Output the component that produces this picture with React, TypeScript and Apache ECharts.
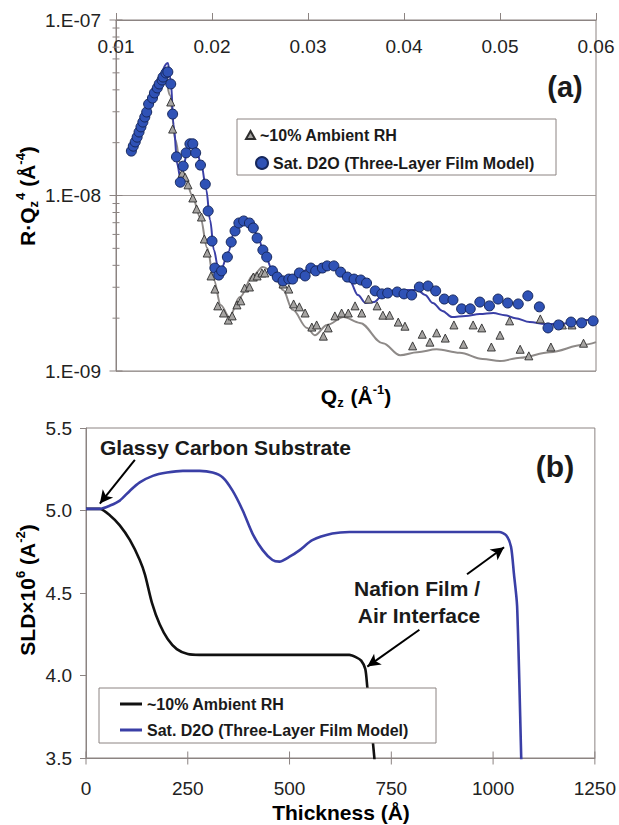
import React, { useEffect, useRef } from "react";
import * as echarts from "echarts";

const FONT = "'Liberation Sans', Arial, Helvetica, sans-serif";
const AXIS = "#8c8482";
const TXT = "#1a1a1a";

// ---------- Panel (a): reflectivity R·Qz^4 vs Qz ----------
// Sat. D2O measured points [Qz, R·Qz^4]
const satPoints: number[][] = [
  [0.0116, 1.79e-8], [0.0118, 1.91e-8], [0.012, 2.02e-8], [0.0122, 2.15e-8], [0.0124, 2.3e-8],
  [0.0126, 2.46e-8], [0.0128, 2.62e-8], [0.013, 2.8e-8], [0.0132, 2.99e-8], [0.0134, 3.32e-8],
  [0.0138, 3.59e-8], [0.014, 3.84e-8], [0.0143, 4.1e-8], [0.0145, 4.32e-8], [0.0148, 4.55e-8],
  [0.0149, 4.73e-8], [0.0152, 4.99e-8], [0.0154, 5.06e-8], [0.0157, 4.32e-8], [0.0159, 2.91e-8],
  [0.0163, 1.66e-8], [0.0167, 1.19e-8], [0.017, 1.47e-8], [0.0173, 1.75e-8], [0.0177, 1.97e-8],
  [0.018, 1.97e-8], [0.0183, 1.75e-8], [0.0188, 1.49e-8], [0.0193, 1.16e-8], [0.0196, 8.16e-9],
  [0.02, 5.5e-9], [0.0203, 3.86e-9], [0.0207, 3.52e-9], [0.021, 3.72e-9], [0.0216, 4.46e-9],
  [0.022, 5.43e-9], [0.0224, 6.28e-9], [0.0228, 6.97e-9], [0.0233, 7.16e-9], [0.0239, 6.97e-9],
  [0.0243, 6.53e-9], [0.0247, 5.72e-9], [0.0253, 4.89e-9], [0.0257, 4.46e-9], [0.0263, 3.72e-9],
  [0.0268, 3.43e-9], [0.0274, 3.26e-9], [0.028, 3.34e-9], [0.0284, 3.34e-9], [0.0291, 3.62e-9],
  [0.0297, 3.48e-9], [0.0303, 3.86e-9], [0.0308, 3.72e-9], [0.0315, 3.86e-9], [0.032, 3.97e-9],
  [0.0327, 3.97e-9], [0.0334, 3.66e-9], [0.0341, 3.43e-9], [0.0348, 3.34e-9], [0.0355, 3.3e-9],
  [0.0361, 3.17e-9], [0.037, 2.86e-9], [0.0377, 2.75e-9], [0.0383, 2.78e-9], [0.0393, 2.82e-9],
  [0.04, 2.75e-9], [0.0408, 2.71e-9], [0.0416, 3.01e-9], [0.0425, 3.05e-9], [0.0433, 2.86e-9],
  [0.0442, 2.57e-9], [0.0451, 2.54e-9], [0.046, 2.26e-9], [0.0469, 2.26e-9], [0.0479, 2.47e-9],
  [0.0489, 2.35e-9], [0.0498, 2.57e-9], [0.0508, 2.44e-9], [0.0519, 2.41e-9], [0.0529, 2.68e-9],
  [0.0541, 2.32e-9], [0.055, 1.76e-9], [0.0561, 1.83e-9], [0.0574, 1.9e-9], [0.0585, 1.88e-9],
  [0.0597, 1.93e-9],
];

// ~10% ambient RH measured points [Qz, R·Qz^4]
const rhPoints: number[][] = [
  [0.0157, 3.41e-8], [0.0159, 2.39e-8], [0.0169, 1.34e-8], [0.0172, 1.27e-8], [0.0175, 1.15e-8],
  [0.018, 9.68e-9], [0.0184, 8.38e-9], [0.0189, 7.54e-9], [0.0192, 5.65e-9], [0.0195, 4.7e-9],
  [0.0199, 3.48e-9], [0.0203, 2.93e-9], [0.0206, 2.35e-9], [0.0212, 2.14e-9], [0.0217, 1.95e-9],
  [0.0221, 2.06e-9], [0.0226, 2.38e-9], [0.023, 2.51e-9], [0.0234, 2.97e-9], [0.0239, 3.01e-9],
  [0.0243, 3.43e-9], [0.0247, 3.48e-9], [0.0252, 3.62e-9], [0.0255, 3.62e-9], [0.0274, 3.13e-9],
  [0.028, 2.93e-9], [0.0285, 2.41e-9], [0.0291, 2.32e-9], [0.0297, 2.14e-9], [0.0304, 1.78e-9],
  [0.0309, 1.83e-9], [0.0316, 1.58e-9], [0.0321, 1.76e-9], [0.0328, 2.06e-9], [0.0335, 2.14e-9],
  [0.0342, 2.14e-9], [0.0349, 2.35e-9], [0.0356, 2.14e-9], [0.0363, 2.57e-9], [0.0372, 2.35e-9],
  [0.0378, 2.08e-9], [0.0385, 2.08e-9], [0.0394, 1.9e-9], [0.0401, 1.8e-9], [0.0409, 1.39e-9],
  [0.0419, 1.62e-9], [0.0427, 1.46e-9], [0.0434, 1.65e-9], [0.0443, 1.54e-9], [0.0452, 1.83e-9],
  [0.0462, 1.42e-9], [0.0472, 1.83e-9], [0.0481, 1.76e-9], [0.0491, 1.37e-9], [0.05, 1.6e-9],
  [0.051, 1.93e-9], [0.0521, 1.33e-9], [0.053, 1.22e-9], [0.0542, 1.98e-9], [0.0553, 1.37e-9],
  [0.0565, 1.83e-9], [0.0575, 1.83e-9], [0.0587, 1.44e-9],
];

// Three-layer film model fit (Sat. D2O)
const satFit: number[][] = [
  [0.0115, 1.79e-8], [0.0135, 3.3e-8], [0.0154, 5.69e-8], [0.0157, 4.55e-8], [0.016, 2.52e-8],
  [0.0164, 1.49e-8], [0.0167, 1.26e-8], [0.017, 1.43e-8], [0.0174, 1.77e-8], [0.0179, 2.02e-8],
  [0.0183, 1.89e-8], [0.0189, 1.49e-8], [0.0194, 1.08e-8], [0.0198, 7.25e-9], [0.0202, 4.89e-9],
  [0.0206, 3.97e-9], [0.021, 3.86e-9], [0.0217, 4.77e-9], [0.0223, 6.19e-9], [0.0229, 7.06e-9],
  [0.0235, 7.25e-9], [0.0242, 6.79e-9], [0.0248, 5.72e-9], [0.0255, 4.58e-9], [0.0263, 3.76e-9],
  [0.0269, 3.39e-9], [0.0275, 3.21e-9], [0.0283, 3.34e-9], [0.0292, 3.62e-9], [0.0302, 3.86e-9],
  [0.0313, 3.97e-9], [0.0323, 3.97e-9], [0.0333, 3.76e-9], [0.0344, 3.21e-9], [0.0352, 2.71e-9],
  [0.036, 2.44e-9], [0.0369, 2.47e-9], [0.0377, 2.68e-9], [0.0385, 2.86e-9], [0.0396, 2.89e-9],
  [0.0414, 2.89e-9], [0.0422, 2.71e-9], [0.043, 2.44e-9], [0.044, 2.2e-9], [0.045, 2.03e-9],
  [0.0464, 2.06e-9], [0.0479, 2.11e-9], [0.0493, 2.14e-9], [0.0505, 2.08e-9], [0.0516, 2.0e-9],
  [0.0531, 1.9e-9], [0.0547, 1.85e-9], [0.0563, 1.85e-9], [0.0578, 1.9e-9], [0.0589, 1.95e-9],
  [0.06, 2.0e-9],
];

// Fit for ~10% ambient RH
const rhFit: number[][] = [
  [0.0146, 3.99e-8], [0.0152, 4.55e-8], [0.0156, 3.74e-8], [0.0162, 2.07e-8], [0.0167, 1.49e-8],
  [0.0173, 1.23e-8], [0.0179, 1.01e-8], [0.0188, 7.44e-9], [0.0195, 5.02e-9], [0.0202, 3.3e-9],
  [0.0209, 2.38e-9], [0.0218, 2.03e-9], [0.0229, 2.64e-9], [0.0243, 3.52e-9], [0.0253, 3.91e-9],
  [0.0264, 3.66e-9], [0.0274, 2.89e-9], [0.0284, 2.23e-9], [0.0299, 1.76e-9], [0.0307, 1.6e-9],
  [0.032, 1.83e-9], [0.0337, 2.03e-9], [0.0354, 1.88e-9], [0.0378, 1.44e-9], [0.0396, 1.23e-9],
  [0.0414, 1.28e-9], [0.0434, 1.33e-9], [0.0458, 1.27e-9], [0.0482, 1.17e-9], [0.05, 1.14e-9],
  [0.0521, 1.19e-9], [0.0552, 1.28e-9], [0.0587, 1.41e-9], [0.06, 1.46e-9],
];

const qAxis = { min: 0.01, max: 0.06, step: 0.01 };
const topYTickLabels: Record<string, string> = { "-9": "1.E-09", "-8": "1.E-08", "-7": "1.E-07" };
const logMajorTicks = [1e-9, 1e-8, 1e-7];
const logMinorTicks = [
  2e-9, 3e-9, 4e-9, 5e-9, 6e-9, 7e-9, 8e-9, 9e-9,
  2e-8, 3e-8, 4e-8, 5e-8, 6e-8, 7e-8, 8e-8, 9e-8,
];

// ---------- Panel (b): SLD profiles ----------
const rhProfile: number[][] = [
  [0, 5.01], [34, 5.01], [59, 4.97], [83, 4.91], [108, 4.82], [132, 4.7], [145, 4.61],
  [162, 4.44], [181, 4.31], [201, 4.22], [223, 4.16], [250, 4.13], [279, 4.125], [647, 4.125],
  [664, 4.11], [676, 4.09], [686, 4.04], [691, 3.93], [699, 3.74], [708, 3.51], [711, 3.4],
];
const satProfile: number[][] = [
  [0, 5.01], [34, 5.01], [59, 5.03], [83, 5.06], [108, 5.12], [132, 5.17], [164, 5.21],
  [199, 5.23], [238, 5.24], [279, 5.24], [311, 5.23], [336, 5.2], [360, 5.12], [385, 5.0],
  [409, 4.86], [434, 4.76], [458, 4.7], [475, 4.69], [500, 4.72], [525, 4.76], [556, 4.82],
  [605, 4.86], [647, 4.87], [1015, 4.87], [1032, 4.85], [1044, 4.78], [1051, 4.62],
  [1059, 4.42], [1069, 3.51], [1070, 3.4],
];
const thicknessAxis = { min: 0, max: 1250, step: 250 };
const sldAxis = { min: 3.5, max: 5.5, step: 0.5 };
const thicknessTicks = [0, 250, 500, 750, 1000, 1250];

// annotation arrows [from, to] in data coordinates of panel (b)
const arrows: number[][][] = [
  [[120, 5.307], [34, 5.042]],
  [[936, 4.614], [1027, 4.777]],
  [[819, 4.277], [691, 4.054]],
];

const legendLabels: Record<string, string> = {
  a_rh: "~10% Ambient RH",
  a_sat: "Sat. D2O (Three-Layer Film Model)",
  b_rh: "~10% Ambient RH",
  b_sat: "Sat. D2O (Three-Layer Film Model)",
};

const BLUE_LINE = "#3a3fa6";
const BLUE_FILL = "#2f52b6";
const GREY_LINE = "#8e8a88";

const tickRenderer = (vertical: boolean) => (_params: any, api: any) => {
  const p = api.coord([api.value(0), api.value(1)]);
  const h = api.value(2);
  return {
    type: "line",
    shape: vertical
      ? { x1: p[0], y1: p[1] - h, x2: p[0], y2: p[1] + h }
      : { x1: p[0] - h, y1: p[1], x2: p[0] + h, y2: p[1] },
    style: { stroke: AXIS, lineWidth: 1 },
  };
};

const legendText = { fontSize: 16, fontWeight: "bold" as const, color: TXT, fontFamily: FONT };

const richBase = {
  b: { fontSize: 21, fontWeight: "bold", fontFamily: FONT, color: TXT, lineHeight: 26 },
  sub: { fontSize: 13, fontWeight: "bold", fontFamily: FONT, color: TXT, verticalAlign: "bottom", padding: [0, 1, 0, 0] },
  sup: { fontSize: 13, fontWeight: "bold", fontFamily: FONT, color: TXT, verticalAlign: "top" },
};

export default function App() {
  const ref = useRef<HTMLDivElement>(null);
  useEffect(() => {
    document.body.style.margin = "0";
    if (!ref.current) return;
    const chart = echarts.init(ref.current, undefined, { renderer: "svg" });
    const option: any = {
      animation: false,
      backgroundColor: "#ffffff",
      textStyle: { fontFamily: FONT },
      grid: [
        { left: 116, top: 20, width: 480, height: 351, show: true, borderColor: AXIS, borderWidth: 1 },
        { left: 86, top: 428, width: 511, height: 330, show: true, borderColor: AXIS, borderWidth: 1 },
      ],
      xAxis: [
        {
          type: "value", gridIndex: 0, position: "top",
          min: qAxis.min, max: qAxis.max, interval: qAxis.step,
          axisLine: { show: true, lineStyle: { color: AXIS } },
          axisTick: { show: true, length: 7, lineStyle: { color: AXIS } },
          axisLabel: {
            inside: true, margin: 17, fontSize: 19, color: "#222", fontFamily: FONT,
            showMinLabel: true, showMaxLabel: true,
            formatter: (v: number) => v.toFixed(2),
          },
          splitLine: { show: false },
        },
        {
          type: "value", gridIndex: 1, position: "bottom",
          min: thicknessAxis.min, max: thicknessAxis.max, interval: thicknessAxis.step,
          axisLine: { show: true, lineStyle: { color: AXIS } },
          axisTick: { show: false },
          axisLabel: {
            margin: 21, fontSize: 19, color: "#222", fontFamily: FONT,
            formatter: (v: number) => String(Math.round(v)),
          },
          splitLine: { show: false },
        },
      ],
      yAxis: [
        {
          type: "log", logBase: 10, gridIndex: 0, min: 1e-9, max: 1e-7,
          axisLine: { show: true, lineStyle: { color: AXIS } },
          axisTick: { show: false },
          axisLabel: {
            margin: 15, fontSize: 19, color: "#222", fontFamily: FONT,
            formatter: (v: number) => topYTickLabels[String(Math.round(Math.log10(v)))] ?? "",
          },
          splitLine: { show: true, lineStyle: { color: "#a09a98", width: 1 } },
        },
        {
          type: "value", gridIndex: 1, min: sldAxis.min, max: sldAxis.max, interval: sldAxis.step,
          axisLine: { show: true, lineStyle: { color: AXIS } },
          axisTick: { show: true, length: 6, lineStyle: { color: AXIS } },
          axisLabel: {
            margin: 14, fontSize: 19, color: "#222", fontFamily: FONT,
            formatter: (v: number) => v.toFixed(1),
          },
          splitLine: { show: false },
        },
      ],
      legend: [
        {
          data: [{ name: "a_rh", icon: "triangle" }], left: 245, top: 127, orient: "vertical",
          itemWidth: 9, itemHeight: 8, padding: 0, selectedMode: false, z: 20,
          formatter: (n: string) => legendLabels[n], textStyle: legendText,
        },
        {
          data: [{ name: "a_sat", icon: "circle" }], left: 255, top: 155, orient: "vertical",
          itemWidth: 12, itemHeight: 12, padding: 0, selectedMode: false, z: 20,
          formatter: (n: string) => legendLabels[n], textStyle: legendText,
        },
        {
          data: [{ name: "b_rh", icon: "rect" }], left: 120, top: 696, orient: "vertical",
          itemWidth: 22, itemHeight: 3, padding: 0, selectedMode: false, z: 20,
          formatter: (n: string) => legendLabels[n], textStyle: legendText,
        },
        {
          data: [{ name: "b_sat", icon: "rect" }], left: 120, top: 722, orient: "vertical",
          itemWidth: 22, itemHeight: 3, padding: 0, selectedMode: false, z: 20,
          formatter: (n: string) => legendLabels[n], textStyle: legendText,
        },
      ],
      series: [
        {
          name: "a_rh_fit", type: "line", xAxisIndex: 0, yAxisIndex: 0, data: rhFit,
          showSymbol: false, smooth: 0.35, smoothMonotone: "x", z: 2,
          lineStyle: { color: GREY_LINE, width: 2 }, itemStyle: { color: GREY_LINE },
        },
        {
          name: "a_sat_fit", type: "line", xAxisIndex: 0, yAxisIndex: 0, data: satFit,
          showSymbol: false, smooth: 0.35, smoothMonotone: "x", z: 3,
          lineStyle: { color: BLUE_LINE, width: 2 }, itemStyle: { color: BLUE_LINE },
        },
        {
          name: "a_rh", type: "scatter", xAxisIndex: 0, yAxisIndex: 0, data: rhPoints,
          symbol: "triangle", symbolSize: 8, z: 4,
          itemStyle: { color: "#a6a4a2", borderColor: "#2e2e2e", borderWidth: 0.9, opacity: 1 },
        },
        {
          name: "a_sat", type: "scatter", xAxisIndex: 0, yAxisIndex: 0, data: satPoints,
          symbol: "circle", symbolSize: 10, z: 5,
          itemStyle: { color: BLUE_FILL, borderColor: "#16275c", borderWidth: 1, opacity: 1 },
        },
        {
          name: "a_yticks", type: "custom", xAxisIndex: 0, yAxisIndex: 0, clip: false, z: 6,
          renderItem: tickRenderer(false), silent: true,
          data: [
            ...logMajorTicks.map((v) => [qAxis.min, v, 6.5]),
            ...logMinorTicks.map((v) => [qAxis.min, v, 3.5]),
          ],
        },
        {
          name: "b_rh", type: "line", xAxisIndex: 1, yAxisIndex: 1, data: rhProfile,
          showSymbol: false, smooth: 0.25, z: 3,
          lineStyle: { color: "#111111", width: 2.6 }, itemStyle: { color: "#111111" },
        },
        {
          name: "b_sat", type: "line", xAxisIndex: 1, yAxisIndex: 1, data: satProfile,
          showSymbol: false, smooth: 0.25, z: 3,
          lineStyle: { color: BLUE_LINE, width: 2.6 }, itemStyle: { color: BLUE_LINE },
          markLine: {
            silent: true, symbol: ["none", "arrow"], symbolSize: [10, 13], z: 8,
            label: { show: false },
            lineStyle: { color: "#000", width: 2, type: "solid" },
            data: arrows.map(([a, b]) => [{ coord: a }, { coord: b }]),
          },
        },
        {
          name: "b_xticks", type: "custom", xAxisIndex: 1, yAxisIndex: 1, clip: false, z: 6,
          renderItem: tickRenderer(true), silent: true,
          data: thicknessTicks.map((v) => [v, sldAxis.min, 6.5]),
        },
      ],
      graphic: [
        { type: "rect", z: 10, shape: { x: 237, y: 119, width: 319, height: 56 },
          style: { fill: "#ffffff", stroke: AXIS, lineWidth: 1 } },
        { type: "rect", z: 10, shape: { x: 99, y: 688, width: 337, height: 55 },
          style: { fill: "#ffffff", stroke: AXIS, lineWidth: 1 } },
        { type: "text", z: 12, x: 565, y: 87,
          style: { text: "(a)", font: `bold 29px ${FONT}`, fill: TXT, align: "center", verticalAlign: "middle" } },
        { type: "text", z: 12, x: 555, y: 466,
          style: { text: "(b)", font: `bold 30px ${FONT}`, fill: TXT, align: "center", verticalAlign: "middle" } },
        { type: "text", z: 12, x: 100, y: 447,
          style: { text: "Glassy Carbon Substrate", font: `bold 21px ${FONT}`, fill: TXT, align: "left", verticalAlign: "middle" } },
        { type: "text", z: 12, x: 417, y: 588,
          style: { text: "Nafion Film /", font: `bold 21px ${FONT}`, fill: TXT, align: "center", verticalAlign: "middle" } },
        { type: "text", z: 12, x: 419, y: 615,
          style: { text: "Air Interface", font: `bold 21px ${FONT}`, fill: TXT, align: "center", verticalAlign: "middle" } },
        { type: "text", z: 12, x: 356, y: 396,
          style: { text: "{b|Q}{sub|z}{b| (Å}{sup|-1}{b|)}", rich: richBase, align: "center", verticalAlign: "middle" } },
        { type: "text", z: 12, x: 341, y: 812,
          style: { text: "{b|Thickness (Å)}", rich: richBase, align: "center", verticalAlign: "middle" } },
        { type: "text", z: 12, x: 27, y: 196, rotation: Math.PI / 2,
          style: { text: "{b|R·Q}{sub|z}{sup|4}{b| (Å}{sup|-4}{b|)}", rich: richBase, align: "center", verticalAlign: "middle" } },
        { type: "text", z: 12, x: 27, y: 590, rotation: Math.PI / 2,
          style: { text: "{b|SLD×10}{sup|6}{b| (A}{sup|-2}{b|)}", rich: richBase, align: "center", verticalAlign: "middle" } },
      ],
    };
    chart.setOption(option);
    return () => chart.dispose();
  }, []);
  return <div ref={ref} style={{ width: 619, height: 825 }} />;
}
